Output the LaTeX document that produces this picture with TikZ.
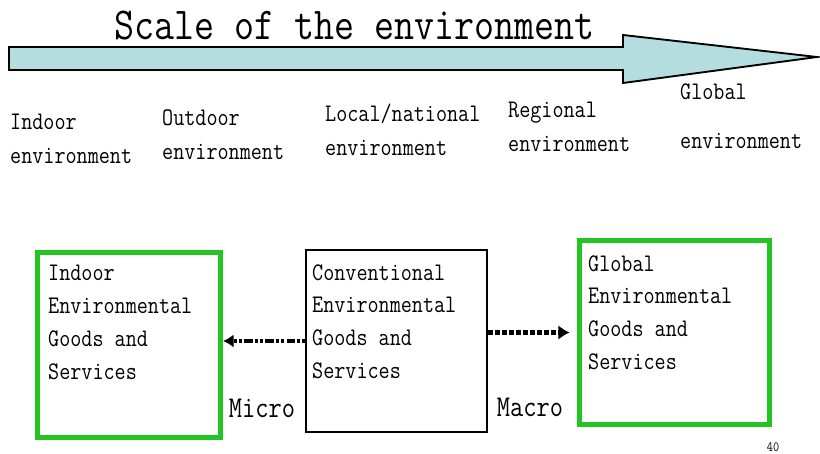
\documentclass[tikz,border=0pt]{standalone}
\usepackage{fontspec}
\usepackage{xcolor}
\usepackage{tikz}
\usetikzlibrary{positioning,arrows.meta}
\newfontfamily\pixfont[FakeStretch=0.85]{Latin Modern Mono}
\definecolor{scalefill}{RGB}{180,221,224}
\definecolor{boxgreen}{RGB}{34,197,34}

\begin{document}
\begin{tikzpicture}[x=0.03cm,y=-0.03cm,
    lbl/.style={anchor=north west, inner sep=0pt, align=left, font=\pixfont\fontsize{21.6}{29}\selectfont},
    boxtxt/.style={anchor=north west, inner sep=0pt, align=left, font=\pixfont\fontsize{21.6}{28}\selectfont},
    greenbox/.style={draw=boxgreen, line width=4.3pt},
    plainbox/.style={draw=black, line width=1.2pt},
    scalelbl/.style={inner sep=0pt, font=\pixfont\fontsize{25.8}{26}\selectfont}]
        \useasboundingbox (0,0) rectangle (820,454);
        % scale arrow and its title
        \draw[fill=scalefill, line width=1.6pt] (9,47) -- (623,47) -- (623,35) -- (817,57) -- (623,83) -- (623,70) -- (9,70) -- cycle;
        \node[anchor=base, inner sep=0pt, font=\pixfont\fontsize{39}{40}\selectfont] (title) at (355,40) {Scale of the environment};
        \foreach \name/\x/\y/\txt in {indoorlbl/10/114/{Indoor\\environment},
                                     outdoorlbl/162/110/{Outdoor\\environment},
                                     locallbl/325/104/{Local/national\\environment},
                                     regionallbl/508/102/{Regional\\environment},
                                     globallbl/680/84/{Global\\[12pt]environment}}{
            \node[lbl] (\name) at (\x,\y) {\txt};}
        % goods and services boxes
        \node[greenbox, minimum width=5.49cm, minimum height=5.55cm] (indoor) at (129,345) {};
        \node[plainbox, minimum width=5.43cm, minimum height=5.46cm] (mid) at (396.5,341) {};
        \node[greenbox, minimum width=5.70cm, minimum height=5.52cm] (glob) at (674.5,332.5) {};
        \node[boxtxt] (indoortxt) at (48,265) {Indoor\\Environmental\\Goods and\\Services};
        \node[boxtxt] (midtxt) at (312,264) {Conventional\\Environmental\\Goods and\\Services};
        \node[boxtxt] (globtxt) at (588,255) {Global\\Environmental\\Goods and\\Services};
        \draw[-{Latex[length=3.2mm,width=4mm]}, line width=2.8pt, dash pattern=on 2.5pt off 2pt on 2.5pt off 2pt on 7pt off 2pt] (mid.west) -- (indoor.east |- mid.west);
        \draw[-{Latex[length=3.4mm,width=4.4mm]}, line width=4.3pt, dash pattern=on 4.5pt off 1.5pt, shorten >=0.22cm] (mid.east |- glob.west) -- (glob.west);
        \node[scalelbl] (micro) at (262,408) {Micro};
        \node[scalelbl] (macro) at (530,407) {Macro};
        \node[inner sep=0pt, font=\pixfont\fontsize{12}{12}\selectfont] (pagenum) at (773,447) {40};
\end{tikzpicture}
\end{document}
